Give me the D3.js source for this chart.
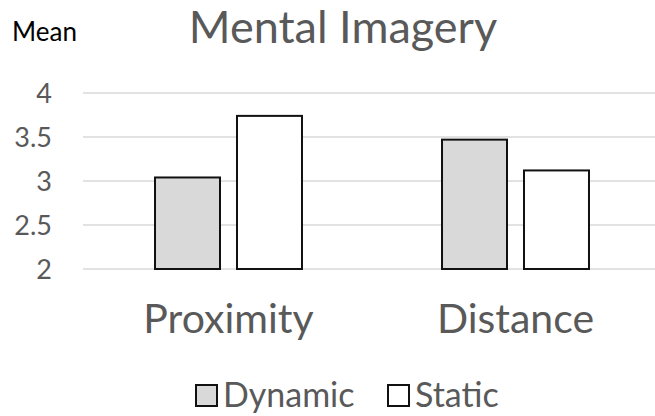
<!DOCTYPE html>
<html>
<head>
<meta charset="utf-8">
<script src="https://cdn.jsdelivr.net/npm/d3@7"></script>
<style>
  html, body { margin: 0; padding: 0; background: #fff; }
  svg { display: block; font-family: Lato, "Open Sans", sans-serif; }
</style>
</head>
<body>
<svg id="chart" width="655" height="416"></svg>
<script>
// Mean mental imagery scores by condition
const categories = ["Proximity", "Distance"];
const seriesNames = ["Dynamic", "Static"];
const dynamicValues = [3.04, 3.47];
const staticValues = [3.74, 3.12];
const tickValues = [2, 2.5, 3, 3.5, 4];
const tickLabels = ["2", "2.5", "3", "3.5", "4"];
const seriesFills = ["#d9d9d9", "#ffffff"];

const valuesBySeries = [dynamicValues, staticValues];
const svg = d3.select("#chart");
const textColor = "#595959";

const y = d3.scaleLinear().domain([2, 4]).range([269, 93]);
const x0 = d3.scaleBand().domain(categories).range([85, 659]).padding(0);
const x1 = d3.scaleBand().domain(seriesNames)
  .range([0, x0.bandwidth()])
  .paddingInner(17 / 82)
  .paddingOuter(0.854);

// gridlines
svg.append("g")
  .selectAll("line")
  .data(tickValues)
  .join("line")
  .attr("x1", 83).attr("x2", 655)
  .attr("y1", d => y(d)).attr("y2", d => y(d))
  .attr("stroke", "#d9d9d9")
  .attr("stroke-width", 1.5);

// y tick labels
svg.append("g")
  .selectAll("text")
  .data(tickValues)
  .join("text")
  .attr("x", 52)
  .attr("y", d => y(d))
  .attr("dy", "0.36em")
  .attr("text-anchor", "end")
  .attr("fill", textColor)
  .attr("font-size", 27)
  .text((d, i) => tickLabels[i]);

// bars
const groups = svg.append("g")
  .selectAll("g")
  .data(categories)
  .join("g")
  .attr("transform", d => `translate(${x0(d)},0)`);

groups.selectAll("rect")
  .data((c, ci) => seriesNames.map((s, si) => ({ s, si, v: valuesBySeries[si][ci] })))
  .join("rect")
  .attr("x", d => x1(d.s))
  .attr("width", x1.bandwidth())
  .attr("y", d => y(d.v))
  .attr("height", d => y(2) - y(d.v))
  .attr("fill", d => seriesFills[d.si])
  .attr("stroke", "#111")
  .attr("stroke-width", 2);

// category labels
svg.append("g")
  .selectAll("text")
  .data(categories)
  .join("text")
  .attr("x", d => x0(d) + x0.bandwidth() / 2)
  .attr("y", 333)
  .attr("text-anchor", "middle")
  .attr("fill", textColor)
  .attr("font-size", 41)
  .text(d => d);

// title and axis label
svg.append("text")
  .attr("x", 343).attr("y", 43)
  .attr("text-anchor", "middle")
  .attr("fill", textColor)
  .attr("font-size", 45)
  .text("Mental Imagery");

svg.append("text")
  .attr("x", 12).attr("y", 41)
  .attr("fill", "#000")
  .attr("font-size", 26)
  .text("Mean");

// legend
const legendX = [196, 388];
const legend = svg.append("g")
  .selectAll("g")
  .data(seriesNames)
  .join("g")
  .attr("transform", (d, i) => `translate(${legendX[i]},385)`);

legend.append("rect")
  .attr("width", 21).attr("height", 21)
  .attr("fill", (d, i) => seriesFills[i])
  .attr("stroke", "#111")
  .attr("stroke-width", 2);

legend.append("text")
  .attr("x", 27).attr("y", 22)
  .attr("fill", textColor)
  .attr("font-size", 34)
  .text(d => d);
</script>
</body>
</html>
